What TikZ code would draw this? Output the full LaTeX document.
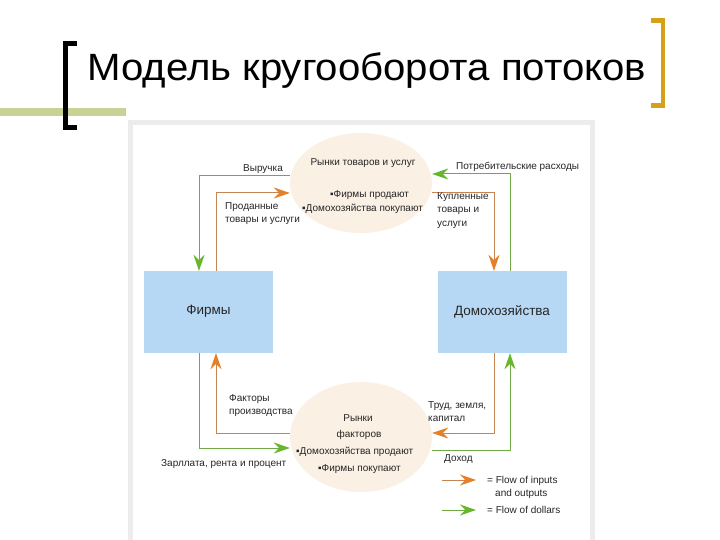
\documentclass[tikz,border=0pt]{standalone}
\usepackage{fontspec}
\setmainfont{Liberation Sans}
\usetikzlibrary{arrows.meta,positioning,shapes.geometric}
\definecolor{titlegold}{RGB}{214,160,24}
\definecolor{olivebar}{RGB}{200,210,150}
\definecolor{panelgray}{RGB}{236,236,236}
\definecolor{boxblue}{RGB}{183,216,245}
\definecolor{marketbeige}{RGB}{250,240,228}
\definecolor{goodsline}{RGB}{196,132,84}
\definecolor{goodstip}{RGB}{228,128,40}
\definecolor{moneyline}{RGB}{112,170,72}
\definecolor{moneytip}{RGB}{104,182,44}
\tikzset{
  sector/.style={rectangle, fill=boxblue, minimum width=129pt, minimum height=82pt,
                 font=\fontsize{13.5}{15}\selectfont, text=black!85},
  market/.style={ellipse, fill=marketbeige, minimum width=142pt, minimum height=100pt, inner sep=0pt},
  lbl/.style={font=\fontsize{10}{13.5}\selectfont, align=left, inner sep=0pt, text=black!85},
  goods/.style={goodsline, line width=1pt, -{Stealth[length=16pt, width=11pt, color=goodstip]}},
  money/.style={moneyline, line width=1pt, -{Stealth[length=16pt, width=11pt, color=moneytip]}},
}
\begin{document}
\begin{tikzpicture}[x=1pt, y=-1pt]
\useasboundingbox (0,0) rectangle (720,540);
\fill[white] (0,0) rectangle (720,540);

% title
\fill[olivebar] (0,108) rectangle (126,116);
\draw[line width=5pt, miter limit=10] (77,43.5) -- (65.5,43.5) -- (65.5,127.5) -- (77,127.5);
\draw[titlegold, line width=4.5pt] (651,20.5) -- (663,20.5) -- (663,105.5) -- (651,105.5);
\node[anchor=base west, inner sep=0pt, font=\fontsize{38}{40}\selectfont] (title) at (87,81)
  {\scalebox{1.057}[1]{Модель кругооборота потоков}};

% panel
\draw[panelgray, line width=5pt] (130,123) rectangle (592,560);

% sectors and markets
\node[sector] (firms) at (208.5,312) {\raisebox{4pt}{Фирмы}};
\node[sector] (homes) at (502,312) {\raisebox{-2pt}{Домохозяйства}};
\node[market] (goodsmkt) at (361,183) {};
\node[market, minimum height=110pt] (factmkt) at (361,437) {};

\node[lbl] (gm1) at (363,163) {Рынки товаров и услуг};
\node[lbl, anchor=west] (gm2) at (330,195) {▪Фирмы продают};
\node[lbl, anchor=west] (gm3) at (302,209) {▪Домохозяйства покупают};
\node[lbl] (fm1) at (358,418) {Рынки};
\node[lbl] (fm2) at (359,435) {факторов};
\node[lbl, anchor=west] (fm3) at (296,452) {▪Домохозяйства продают};
\node[lbl, anchor=west] (fm4) at (318,469) {▪Фирмы покупают};

% corners of the flows
\coordinate (revC) at (199,176);
\coordinate (soldC) at (216,193);
\coordinate (boughtC) at (494,193);
\coordinate (spendC) at (510,174);
\coordinate (inputC) at (216,433);
\coordinate (wageC) at (199,448);
\coordinate (labourC) at (494,433);
\coordinate (incomeC) at (510,450);

% flows
\draw[money] (goodsmkt.west |- revC) -- (revC) -- (firms.north -| revC);
\draw[goods] (firms.north -| soldC) -- (soldC) -- (goodsmkt.west |- soldC);
\draw[goods] (goodsmkt.east |- boughtC) -- (boughtC) -- (homes.north -| boughtC);
\draw[money] (homes.north -| spendC) -- (spendC) -- (goodsmkt.east |- spendC);
\draw[goods] (factmkt.west |- inputC) -- (inputC) -- (firms.south -| inputC);
\draw[money] (firms.south -| wageC) -- (wageC) -- (factmkt.west |- wageC);
\draw[goods] (homes.south -| labourC) -- (labourC) -- (factmkt.east |- labourC);
\draw[money] (factmkt.east |- incomeC) -- (incomeC) -- (homes.south -| incomeC);

% flow labels
\node[lbl] (revenue) at (263,169) {Выручка};
\node[lbl, anchor=north west] (sold) at (225,202) {Проданные\\товары и услуги};
\node[lbl, anchor=west] (spending) at (456,167) {Потребительские расходы};
\node[lbl, anchor=north west] (bought) at (437,192) {Купленные\\товары и\\услуги};
\node[lbl, anchor=north west] (inputs) at (229,394) {Факторы\\производства};
\node[lbl, anchor=west] (wages) at (161,464) {Зарллата, рента и процент};
\node[lbl, anchor=north west] (labour) at (428,401) {Труд, земля,\\капитал};
\node[lbl, anchor=west] (income) at (444,459) {Доход};

% legend
\coordinate (legG1) at (442,480);
\coordinate (legG2) at (476,480);
\coordinate (legM1) at (442,510);
\coordinate (legM2) at (476,510);
\draw[goods] (legG1) -- (legG2);
\draw[money] (legM1) -- (legM2);
\node[lbl, anchor=west] (legG) at (487,481) {= Flow of inputs};
\node[lbl, anchor=west] (legG') at (495,494) {and outputs};
\node[lbl, anchor=west] (legM) at (487,510) {= Flow of dollars};
\end{tikzpicture}
\end{document}
